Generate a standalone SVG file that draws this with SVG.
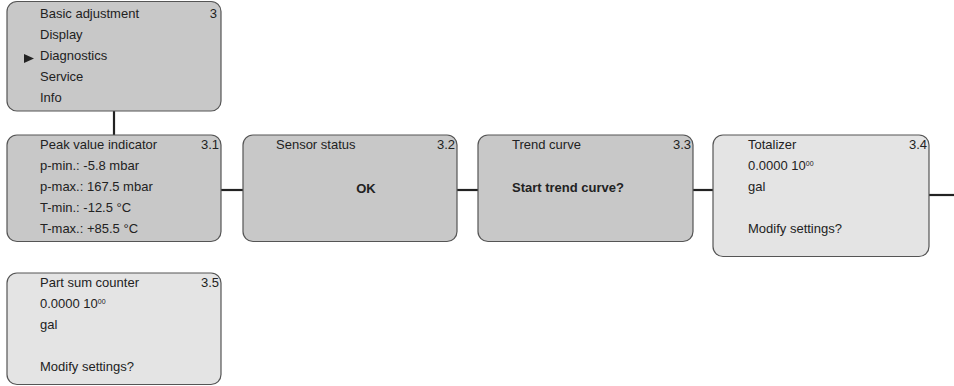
<svg xmlns="http://www.w3.org/2000/svg" width="954" height="386" viewBox="0 0 954 386">
<style>
.box{stroke:#555;stroke-width:1.2}
.dk{fill:#c8c8c8}
.lt{fill:#e4e4e4}
text{font-family:"Liberation Sans",Arial,sans-serif;font-size:13px;fill:#222}
.b{font-weight:bold}
.r{text-anchor:end}
.sup{font-size:7px}
.con{stroke:#222;stroke-width:2.2;fill:none}
</style>
<rect width="954" height="386" fill="#fff"/>
<g id="connectors">
<line class="con" x1="114" y1="111" x2="114" y2="135"/>
<line class="con" x1="221" y1="190" x2="243" y2="190"/>
<line class="con" x1="457" y1="190" x2="478" y2="190"/>
<line class="con" x1="693" y1="190" x2="713" y2="190"/>
<line class="con" x1="929" y1="195" x2="954" y2="195"/>
</g>
<g id="menu">
<rect class="box dk" x="7" y="1.5" width="214" height="109.5" rx="10"/>
<text x="40" y="18">Basic adjustment</text>
<text class="r" x="217" y="18">3</text>
<text x="40" y="39">Display</text>
<polygon points="24,54 34,58.5 24,63" fill="#222"/>
<text x="40" y="60">Diagnostics</text>
<text x="40" y="81">Service</text>
<text x="40" y="102">Info</text>
</g>
<g id="n31">
<rect class="box dk" x="7" y="135" width="214" height="106.5" rx="10"/>
<text x="40" y="149">Peak value indicator</text>
<text class="r" x="219" y="149">3.1</text>
<text x="40" y="170">p-min.: -5.8 mbar</text>
<text x="40" y="191">p-max.: 167.5 mbar</text>
<text x="40" y="212">T-min.: -12.5 °C</text>
<text x="40" y="233">T-max.: +85.5 °C</text>
</g>
<g id="n32">
<rect class="box dk" x="243" y="135" width="214" height="106.5" rx="10"/>
<text x="276" y="149">Sensor status</text>
<text class="r" x="455" y="149">3.2</text>
<text class="b" x="366" y="193" text-anchor="middle">OK</text>
</g>
<g id="n33">
<rect class="box dk" x="478" y="135" width="215" height="106.5" rx="10"/>
<text x="512" y="149">Trend curve</text>
<text class="r" x="691" y="149">3.3</text>
<text class="b" x="512" y="192">Start trend curve?</text>
</g>
<g id="n34">
<rect class="box lt" x="713" y="135" width="216" height="121.5" rx="10"/>
<text x="748" y="149">Totalizer</text>
<text class="r" x="927" y="149">3.4</text>
<text x="748" y="170">0.0000 10<tspan class="sup" dy="-4">00</tspan></text>
<text x="748" y="191">gal</text>
<text x="748" y="233">Modify settings?</text>
</g>
<g id="n35">
<rect class="box lt" x="7" y="273" width="214" height="111.5" rx="10"/>
<text x="40" y="287">Part sum counter</text>
<text class="r" x="219" y="287">3.5</text>
<text x="40" y="308">0.0000 10<tspan class="sup" dy="-4">00</tspan></text>
<text x="40" y="329">gal</text>
<text x="40" y="371">Modify settings?</text>
</g>
</svg>
